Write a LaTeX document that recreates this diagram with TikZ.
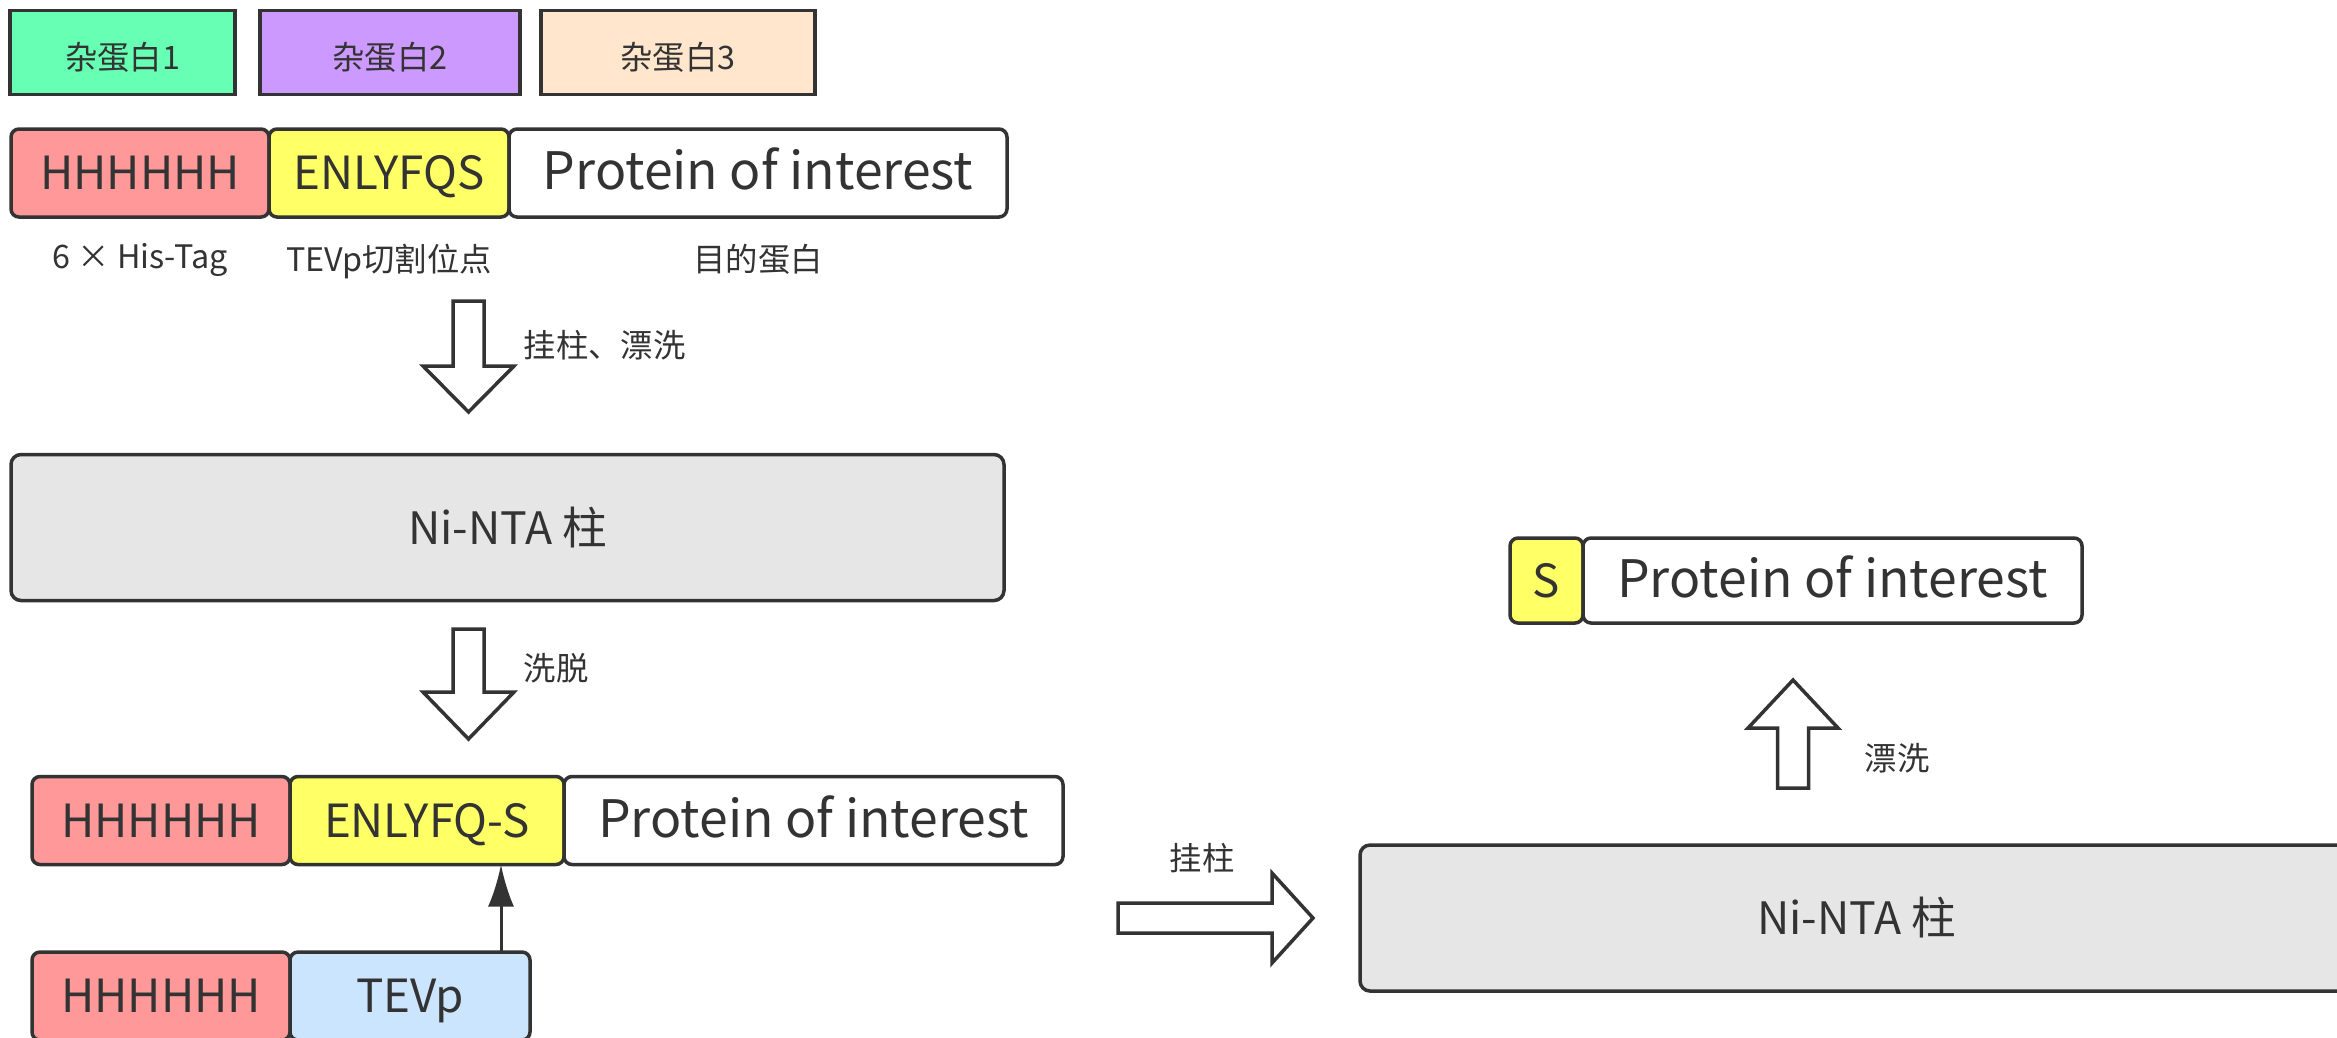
\documentclass[tikz,border=0pt]{standalone}
\usepackage{fontspec}
\setmainfont{Noto Sans CJK SC}
\usepackage{tikz}
\usetikzlibrary{arrows.meta,positioning,calc}
\definecolor{edgegray}{HTML}{333333}
\definecolor{txtgray}{HTML}{333333}
\definecolor{impgreen}{HTML}{66FFB3}
\definecolor{imppurple}{HTML}{CC99FF}
\definecolor{imppeach}{HTML}{FFE6CC}
\definecolor{hisred}{HTML}{FF9999}
\definecolor{cutyellow}{HTML}{FFFF66}
\definecolor{tevblue}{HTML}{CCE5FF}
\definecolor{colgray}{HTML}{E6E6E6}
\tikzset{
  seg/.style={draw=edgegray,line width=0.35mm,rounded corners=0.8mm,minimum height=8.8mm,
    inner sep=0pt,outer sep=0pt,text=txtgray,text height=1.15em,text depth=0.2em,
    font=\fontsize{13pt}{15pt}\selectfont},
  imp/.style={seg,rounded corners=0pt,minimum height=8.4mm,font=\fontsize{9.2pt}{11pt}\selectfont},
  his/.style={seg,fill=hisred},
  cut/.style={seg,fill=cutyellow},
  tev/.style={seg,fill=tevblue},
  poi/.style={seg,fill=white,font=\fontsize{14.7pt}{17pt}\selectfont},
  col/.style={seg,fill=colgray,rounded corners=1mm,minimum height=14.6mm,
    font=\fontsize{12.7pt}{15pt}\selectfont},
  lbl/.style={text=txtgray,inner sep=0pt,font=\fontsize{9.2pt}{11pt}\selectfont},
  fat/.style={draw=edgegray,line width=0.35mm,fill=white,line join=miter},
  fl/.style={-{Latex[length=4.2mm,width=2.6mm]},draw=edgegray,line width=0.3mm},
}

\begin{document}
\begin{tikzpicture}[x=0.1mm,y=-0.1mm,node distance=0pt]
  \clip (0,0) rectangle (2337,1037);
  \fill[white] (0,0) rectangle (2337,1037);
  % impurity proteins
  \node[imp,fill=impgreen,minimum width=22.5mm] (i1) at (122.5,52.5) {杂蛋白1};
  \node[imp,fill=imppurple,minimum width=26mm] (i2) at (390,52.5) {杂蛋白2};
  \node[imp,fill=imppeach,minimum width=27.4mm] (i3) at (678,52.5) {杂蛋白3};
  % fusion protein
  \node[his,minimum width=25.8mm] (h1) at (140,173) {HHHHHH};
  \node[cut,minimum width=24mm,right=of h1] (c1) {ENLYFQS};
  \node[poi,minimum width=49.8mm,right=of c1] (p1) {Protein of interest};
  \node[lbl,below=2.6mm of h1] (l1) {6 × His-Tag};
  \node[lbl,below=2.6mm of c1] (l2) {TEVp切割位点};
  \node[lbl,below=2.6mm of p1] (l3) {目的蛋白};
  \draw[fat] (453,301) -- (484,301) -- (484,366) -- (514,366) -- (468.5,412)
    -- (423,366) -- (453,366) -- cycle;
  \node[lbl,anchor=west] (s1) at (523,345) {挂柱、漂洗};
  % column
  \node[col,minimum width=99.3mm] (n1) at (507.5,527.5) {Ni-NTA 柱};
  \draw[fat] (453,629) -- (484,629) -- (484,692) -- (514,692) -- (468.5,739)
    -- (423,692) -- (453,692) -- cycle;
  \node[lbl,anchor=west] (s2) at (523,668) {洗脱};
  % cleavage
  \node[his,minimum width=25.8mm] (h3) at (161,820.5) {HHHHHH};
  \node[cut,minimum width=27.4mm,right=of h3] (c3) {ENLYFQ-S};
  \node[poi,minimum width=49.9mm,right=of c3] (p3) {Protein of interest};
  \node[his,minimum width=25.8mm] (h4) at (161,996) {HHHHHH};
  \node[tev,minimum width=24mm,right=of h4] (t4) {TEVp};
  \draw[fl] ([xshift=-2.9mm]t4.north east) -- ([xshift=-2.9mm]t4.north east |- c3.south);
  % second column
  \draw[fat] (1118,903) -- (1272,903) -- (1272,873) -- (1313,918) -- (1272,963)
    -- (1272,933) -- (1118,933) -- cycle;
  \node[lbl] (s3) at (1202,858) {挂柱};
  \node[col,minimum width=99.3mm] (n2) at (1856.5,918) {Ni-NTA 柱};
  \draw[fat] (1777.5,788) -- (1808.5,788) -- (1808.5,728) -- (1838,728) -- (1793,680)
    -- (1748,728) -- (1777.5,728) -- cycle;
  \node[lbl] (s4) at (1897,758) {漂洗};
  \node[cut,minimum width=7.3mm,minimum height=8.5mm] (sr) at (1546.5,580.5) {S};
  \node[poi,minimum width=49.9mm,minimum height=8.5mm,right=of sr] (pr) {Protein of interest};
\end{tikzpicture}
\end{document}
